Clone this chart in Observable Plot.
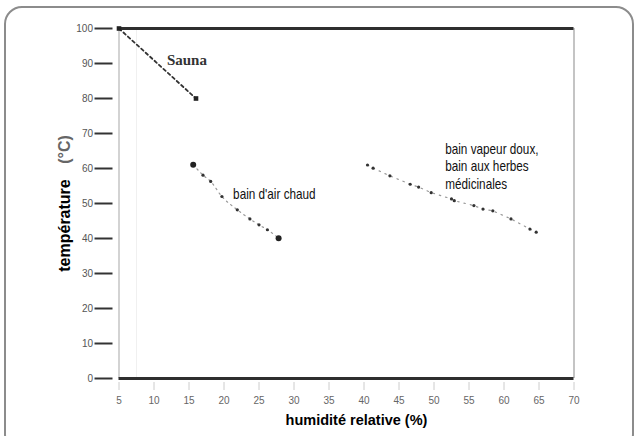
<!DOCTYPE html>
<html><head><meta charset="utf-8">
<script src="https://cdn.jsdelivr.net/npm/d3@7"></script>
<script src="https://cdn.jsdelivr.net/npm/@observablehq/plot@0.6"></script>
<style>
html,body{margin:0;padding:0;background:#fff;}
#wrap{position:relative;width:640px;height:436px;overflow:hidden;}
#frame{position:absolute;left:4px;top:6px;width:630px;height:446px;border:2px solid #8c8c8c;border-radius:18px;box-sizing:border-box;pointer-events:none;}
</style></head><body>
<div id="wrap"><div id="chart"></div><div id="frame"></div></div>
<script>
// Tick values
const xTicks = [5,10,15,20,25,30,35,40,45,50,55,60,65,70];
const yTicks = [0,10,20,30,40,50,60,70,80,90,100];

// Series: humidité relative (%) / température (°C)
const saunaHumidity = [5, 16];
const saunaTemp = [100, 80];
const airHumidity = [15.6, 17.0, 18.1, 19.7, 21.9, 23.7, 25.0, 26.2, 27.8];
const airTemp = [61.1, 58.1, 56.3, 52.0, 48.2, 45.6, 43.9, 42.5, 40.1];
const vapeurHumidity = [40.5, 41.3, 43.7, 46.6, 47.8, 49.6, 52.5, 52.9, 55.7, 57.0, 58.4, 61.0, 63.7, 64.6];
const vapeurTemp = [61, 60.1, 57.9, 55.5, 54.7, 53.1, 51.3, 50.8, 49.4, 48.4, 47.9, 45.6, 42.7, 41.8];

// Annotations
const labelText = ["Sauna", "bain d'air chaud", "bain vapeur doux,\nbain aux herbes\nmédicinales"];
const labelX = [14.7, 21.3, 51.6];
const labelY = [91, 52.8, 60.8];

const toRows = (xs, ys) => xs.map((h, i) => ({h, t: ys[i]}));
const sauna = toRows(saunaHumidity, saunaTemp);
const air = toRows(airHumidity, airTemp);
const vapeur = toRows(vapeurHumidity, vapeurTemp);
const labels = labelText.map((s, i) => ({s, h: labelX[i], t: labelY[i]}));
const isEnd = (d, i, arr) => i === 0 || i === arr.length - 1;

const chart = Plot.plot({
  width: 640,
  height: 436,
  marginLeft: 118.5,
  marginRight: 66.5,
  marginTop: 28,
  marginBottom: 58,
  x: {domain: [5, 70]},
  y: {domain: [0, 100]},
  style: {fontFamily: "'Liberation Sans', Arial, sans-serif", background: "transparent"},
  marks: [
    Plot.ruleX([7.5], {stroke: "#f0f0f0", strokeWidth: 1}),
    Plot.ruleX([5], {stroke: "#c4c4c4", strokeWidth: 1.5}),
    Plot.ruleX([70], {stroke: "#c4c4c4", strokeWidth: 2}),
    Plot.ruleY([0, 100], {stroke: "#2e2e2e", strokeWidth: 3}),
    Plot.axisY({ticks: yTicks, tickSize: 18, dx: -6, tickPadding: 2, stroke: "#333", strokeWidth: 2, fill: "#555", fontSize: 10, label: null}),
    Plot.axisX({ticks: xTicks, tickSize: 8, dy: 4, tickPadding: 6, stroke: "#ccc", fill: "#666", fontSize: 10, label: null}),
    Plot.line(sauna, {x: "h", y: "t", stroke: "#333", strokeWidth: 1.8, strokeDasharray: "3,3"}),
    Plot.dot(sauna, {x: "h", y: "t", symbol: "square", r: 2.6, fill: "#222"}),
    Plot.line(air, {x: "h", y: "t", stroke: "#999", strokeWidth: 1.2, strokeDasharray: "1.5,4", curve: "monotone-x"}),
    Plot.dot(air, {x: "h", y: "t", r: 1.6, fill: "#333"}),
    Plot.dot(air.filter((d, i) => isEnd(d, i, air)), {x: "h", y: "t", r: 3, fill: "#222"}),
    Plot.line(vapeur, {x: "h", y: "t", stroke: "#999", strokeWidth: 1.2, strokeDasharray: "1.5,5"}),
    Plot.dot(vapeur, {x: "h", y: "t", r: 1.6, fill: "#333"}),
    Plot.text(labels.slice(0, 1), {x: "h", y: "t", text: "s", fontFamily: "'Liberation Serif', serif", fontWeight: "bold", fontSize: 15, fill: "#333", textAnchor: "middle"}),
    Plot.text(labels.slice(1), {x: "h", y: "t", text: "s", fontSize: 14, fill: "#111", textAnchor: "start", lineHeight: 1.25, className: "narrow-label"}),
    Plot.text(["température"], {frameAnchor: "left", dx: -54, dy: 22, rotate: -90, textAnchor: "middle", lineAnchor: "middle", fontWeight: "bold", fontSize: 16, fill: "#000"}),
    Plot.text(["(°C)"], {frameAnchor: "left", dx: -54, dy: -54, rotate: -90, textAnchor: "middle", lineAnchor: "middle", fontWeight: "bold", fontSize: 16, fill: "#666"}),
    Plot.text(["humidité relative (%)"], {frameAnchor: "bottom", dx: 10, dy: 42, textAnchor: "middle", lineAnchor: "middle", fontWeight: "bold", fontSize: 14.5, fill: "#000"})
  ]
});
// condense the annotation labels horizontally (narrow face as in the original)
d3.select(chart).selectAll(".narrow-label text").each(function() {
  const t = this.getAttribute("transform") || "";
  this.setAttribute("transform", t + " scale(0.84,1)");
});
document.getElementById("chart").appendChild(chart);
</script>
</body></html>
